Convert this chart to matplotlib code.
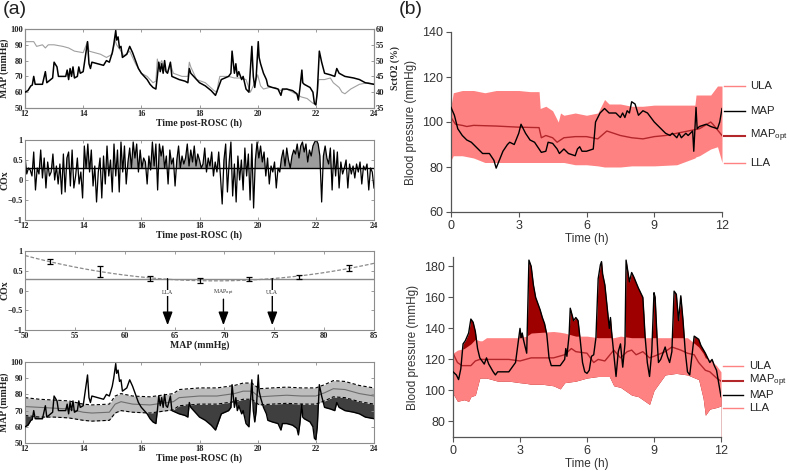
import numpy as np
import matplotlib
matplotlib.use("Agg")
import matplotlib.pyplot as plt

plt.rcParams["mathtext.fontset"] = "custom"
plt.rcParams["mathtext.rm"] = "Liberation Sans"
plt.rcParams["mathtext.it"] = "Liberation Sans:italic"
plt.rcParams["mathtext.bf"] = "Liberation Sans:bold"

# ---------------- Panel (a) data ----------------
map_t = [12.0, 12.1, 12.2, 12.25, 12.3, 12.35, 12.6, 12.7, 12.75, 12.95, 13.0, 13.1, 13.15, 13.4, 13.45, 13.5,
         13.55, 13.6, 13.65, 13.7, 13.8, 13.85, 13.9, 14.0, 14.15, 14.2, 14.25, 14.3, 14.5, 14.7, 14.8, 14.9,
         15.0, 15.05, 15.12, 15.15, 15.2, 15.25, 15.3, 15.35, 15.5, 15.6, 15.7, 15.8, 15.9, 16.0, 16.2, 16.3,
         16.4, 16.5, 16.55, 16.6, 16.65, 16.7, 16.75, 16.8, 16.85, 16.9, 17.0, 17.05, 17.3, 17.5, 17.6, 17.65,
         17.7, 17.9, 18.0, 18.2, 18.4, 18.55, 18.65, 18.75, 19.0, 19.08, 19.12, 19.2, 19.25, 19.3, 19.35, 19.45,
         19.5, 19.6, 19.7, 19.8, 19.85, 19.9, 19.95, 20.02, 20.05, 20.1, 20.2, 20.3, 20.35, 20.5, 20.7, 20.8,
         20.85, 21.0, 21.2, 21.35, 21.4, 21.45, 21.52, 21.55, 21.6, 21.8, 21.9, 21.95, 22.0, 22.05, 22.12, 22.2,
         22.3, 22.5, 22.65, 22.72, 22.8, 23.0, 23.3, 23.5, 23.7, 24.0]
map_v = [60, 61, 64, 64.5, 70, 65, 65, 73, 66, 69, 79, 76, 70, 70, 74, 68,
         75, 70, 76, 69, 70, 76, 72, 73, 92, 78, 75, 79, 78, 77, 80, 79,
         85, 90, 99, 93, 95, 88, 89, 82, 84, 89, 85, 80, 75, 72, 68, 65,
         63, 62, 70, 79, 73, 78, 72, 80, 73, 72, 79, 70, 68, 67, 66, 75,
         72, 68, 66, 64, 61, 58, 63, 68, 70, 72, 86, 72, 78, 70, 73, 68,
         70, 62, 60, 89, 70, 63, 70, 92, 82, 78, 72, 68, 64, 63, 62, 58,
         62, 62, 61, 59, 55, 62, 74, 66, 65, 63, 60, 53, 52, 60, 86, 79,
         72, 71, 70, 75, 72, 70, 69, 68, 66, 65]

sto2_t = [12.0, 12.3, 12.4, 12.6, 12.7, 12.8, 13.0, 13.3, 13.5, 13.7, 14.0, 14.15, 14.2, 14.4, 14.6, 14.8,
          15.0, 15.1, 15.15, 15.3, 15.4, 15.6, 15.8, 16.0, 16.2, 16.4, 16.5, 16.55, 16.6, 16.7, 16.8, 16.9,
          17.0, 17.1, 17.4, 17.6, 17.65, 17.7, 17.9, 18.2, 18.5, 18.6, 18.65, 18.7, 19.0, 19.2, 19.4, 19.6,
          19.75, 19.95, 20.0, 20.1, 20.2, 20.4, 20.6, 20.8, 21.0, 21.3, 21.5, 21.7, 21.9, 22.0, 22.1, 22.3,
          22.5, 22.6, 22.8, 22.9, 23.0, 23.2, 23.5, 23.8, 24.0]
sto2_v = [56, 56, 54.5, 55, 54, 55, 55, 54.5, 54, 53, 52.5, 56, 53, 52.5, 52, 51,
          52, 56.5, 55, 53, 51.5, 53, 49, 46, 45, 43, 43.5, 50.5, 48, 50, 47, 46,
          49, 46, 45, 45, 49.5, 48, 44, 43, 40.5, 40, 43, 45, 45, 44.5, 44.5, 44,
          40, 44, 45.5, 42, 41, 41.5, 41.5, 40.5, 41, 39.5, 38.5, 38, 36.5, 36, 44, 44,
          44.5, 43, 41.5, 40, 39.5, 41, 42.5, 43, 42.5]

cox_t0, cox_dt = 12.0, 0.06
cox_v = [0.6, 0.15, 0.3, 0.25, 0.1, 0.7, -0.25, 0.3, 0.15, 0.75, 0.05, 0.55, -0.2, 0.45, 0.1, 0.2, 0.65,
         0.0, 0.35, -0.1, 0.4, -0.35, 0.65, -0.3, 0.55, 0.7, -0.15, 0.75, -0.2, 0.1, 0.55, -0.1, 0.2, -0.45,
         0.85, 0.3, 0.9, 0.2, 0.75, -0.15, 0.35, -0.55, 0.2, 0.55, -0.45, 0.6, -0.1, 0.85, 0.1, 0.5, -0.3,
         0.9, 0.1, 0.75, -0.3, 0.95, 0.2, 0.85, -0.1, 0.45, 0.8, 0.3, 0.95, 0.55, 0.9, 0.2, 0.75, 0.3,
         0.55, 0.45, -0.1, 0.6, 0.25, 0.95, 0.35, 0.9, -0.25, 0.9, 0.6, 0.85, 0.3, 0.6, -0.1, 0.75, 0.4,
         0.55, -0.15, 0.5, 0.85, 0.3, 0.6, 0.4, 0.55, 0.9, 0.35, 0.75, 0.45, 0.85, 0.35, 0.65, 0.5, 0.3,
         0.4, 0.8, 0.2, 0.55, 0.35, 0.7, 0.1, 0.45, 0.2, 0.7, 0.1, -0.6, 0.5, 0.9, -0.3, 0.45, 0.95,
         -0.4, 0.4, -0.55, 0.6, 0.0, 0.5, -0.25, 0.8, 0.1, 0.65, -0.5, 0.9, -0.7, 0.5, 0.95, 0.55, 0.85,
         0.45, 0.7, 0.1, 0.55, -0.1, 0.35, 0.2, 0.45, -0.2, 0.3, 0.2, 0.55, 0.75, 0.35, 0.8, 0.5, 0.3,
         0.6, 0.75, 0.65, 0.9, 0.55, 0.85, 0.95, 0.7, 0.9, 0.45, 0.75, 0.6, 0.85, 0.95, 1.0, 0.9, 0.6,
         -0.55, 0.6, 0.85, 0.55, 0.4, 0.8, -0.25, 0.75, 0.1, 0.7, -0.2, 0.45, 0.15, 0.3, 0.5, -0.2, 0.4,
         0.15, 0.35, 0.05, 0.4, 0.2, 0.45, -0.1, 0.35, 0.25, 0.4, -0.25, 0.3, 0.2, -0.2]
cox_threshold = 0.3

bin_map = [52.5, 57.5, 62.5, 67.5, 72.5, 77.5, 82.5]
bin_cox = [0.73, 0.48, 0.31, 0.26, 0.28, 0.34, 0.57]
bin_err = [0.07, 0.13, 0.06, 0.06, 0.05, 0.06, 0.08]
arrow_names = ["LLA", "MAP$_{\\rm opt}$", "ULA"]
arrow_x = [64.3, 69.9, 74.8]

band_a_t = [12.0, 12.5, 13.0, 13.5, 14.0, 14.3, 14.9, 15.1, 15.3, 15.7, 16.3, 16.9, 17.1, 17.3, 18.0, 18.6,
            19.2, 19.5, 19.8, 20.05, 20.5, 21.0, 21.5, 22.0, 22.3, 22.6, 23.0, 23.5, 24.0]
ula_a = [78, 77, 76.5, 76, 74, 73.5, 74, 79, 80.5, 79, 78.5, 80, 80.5, 83, 84, 84,
         85.5, 87, 87, 83.5, 84, 84.5, 84, 84, 86, 88.5, 88, 85.5, 84]
opt_a = [72.5, 72, 71.5, 71, 69, 68.5, 69, 74, 75.5, 74, 73.5, 75, 75.5, 78, 79, 79,
         80.5, 82, 82, 78.5, 79, 79.5, 79, 79, 81, 83.5, 83, 80.5, 79]
lla_a = [67, 66, 66, 65.5, 64, 63.5, 64, 68.5, 70, 69, 68.5, 70, 70.5, 73, 74, 74,
         75.5, 77, 77, 73.5, 74, 74.5, 74, 74, 76, 78.5, 78, 75.5, 74]

# ---------------- Panel (b) data ----------------
b1_band_t = [0.0, 0.1, 0.5, 1.0, 1.5, 2.0, 2.5, 3.0, 3.5, 3.9, 3.95, 4.2, 4.5, 4.75, 4.85, 5.0, 5.5, 6.0, 6.5,
             6.8, 7.0, 7.5, 8.0, 8.5, 9.0, 10.0, 10.8, 10.85, 11.0, 11.5, 11.8, 12.0]
b1_ula = [107, 113, 114, 114, 113, 114, 114, 114, 113.5, 113.5, 106, 107, 105, 100, 104, 103, 104, 103, 104,
          110, 108, 108, 107, 107, 107.5, 107.5, 107.5, 112, 112, 112, 116, 116]
b1_lla = [83, 85, 85, 84, 82, 82, 82, 82, 82, 82, 82, 82, 82, 82, 82, 82, 81, 81, 80.5,
          80, 80, 80, 80.5, 80.5, 80.5, 81, 84, 84.5, 85, 88, 89, 82]
b1_opt_t = [0.0, 0.2, 0.5, 0.7, 1.0, 2.0, 3.0, 3.9, 4.0, 4.2, 4.5, 4.7, 5.0, 5.5, 6.0, 6.5, 6.9, 7.5, 8.0,
            8.5, 9.0, 9.5, 10.0, 10.5, 11.0, 11.5, 11.6, 12.0]
b1_opt = [102, 99, 98.5, 98, 98.5, 98.2, 97.7, 97.5, 93, 94, 93, 91, 93, 93.5, 93.5, 92.5, 96, 94, 93,
          92.5, 93.5, 94, 95, 96, 97, 100, 99, 94]
b1_map_t = [0.0, 0.15, 0.3, 0.5, 0.7, 0.9, 1.0, 1.2, 1.4, 1.7, 1.9, 2.0, 2.1, 2.3, 2.5, 2.6, 2.8, 3.0, 3.1,
            3.3, 3.5, 3.7, 3.9, 4.0, 4.2, 4.3, 4.5, 4.7, 4.8, 5.0, 5.2, 5.5, 5.6, 5.7, 5.8, 6.0, 6.3, 6.4,
            6.6, 6.8, 7.0, 7.3, 7.5, 7.6, 7.7, 7.8, 7.9, 8.0, 8.15, 8.3, 8.5, 8.7, 9.0, 9.3, 9.5, 9.7, 9.8,
            10.0, 10.1, 10.2, 10.4, 10.5, 10.7, 10.75, 10.85, 10.9, 11.0, 11.3, 11.5, 11.8, 11.9, 12.0]
b1_map = [106.5, 103, 97, 94, 92, 91, 90, 88, 86, 86, 83, 79.5, 82, 87, 90, 91, 90, 95, 99,
          95, 92, 91, 88, 86.5, 87, 91, 90.5, 88, 86, 88, 86, 85, 88, 89, 87, 87, 88, 100,
          104, 106, 104, 104, 102, 104, 102, 105, 104, 109, 108, 103, 105, 104, 100, 97, 95, 94, 95,
          93, 95, 93, 95, 94, 96, 87, 106.5, 97, 98, 99, 98, 97, 100, 106]

b2_band_t = [0.0, 0.2, 0.5, 0.7, 0.8, 1.0, 1.2, 1.3, 1.5, 2.0, 2.5, 3.0, 3.3, 3.5, 4.0, 4.5, 4.8, 5.0, 5.5,
             6.0, 6.5, 7.0, 7.2, 7.5, 8.0, 8.3, 8.5, 8.8, 9.0, 9.5, 10.0, 10.5, 11.0, 11.2, 11.3, 11.5, 11.8, 12.0]
b2_ula = [124, 126, 127, 129, 130, 133, 132, 132, 134, 134, 134, 134, 135, 137, 137.5, 138, 137.5, 137, 135,
          135, 134, 134, 134, 135, 134, 134, 134, 134, 134, 134, 134, 134, 128, 124, 121, 120, 116, 112]
b2_lla = [98, 93, 94, 93, 96, 97, 108, 108, 108, 106, 106, 105, 104.5, 104, 104, 103, 101, 105, 106,
          108, 109, 109, 103, 102, 97, 96, 94, 91, 100, 110, 111, 110, 107, 95, 84, 88, 89, 90]
b2_opt_t = [0.0, 0.2, 0.4, 0.8, 1.0, 1.2, 2.0, 2.5, 3.0, 3.5, 4.0, 4.5, 5.0, 5.3, 5.5, 6.0, 6.3, 6.5, 6.8,
            7.2, 7.5, 7.8, 8.0, 8.2, 8.5, 8.8, 9.0, 9.5, 9.8, 10.2, 10.5, 10.8, 11.0, 11.3, 11.5, 11.8, 12.0]
b2_opt = [124, 118, 116, 116, 119, 120, 120, 120, 119, 121, 121, 121, 123, 127, 125, 124, 118, 120, 119,
          126, 121, 125, 126, 123, 125, 121, 122, 125, 128, 126, 124, 123, 118, 113, 112, 108, 106]
b2_map_t = [0.0, 0.15, 0.25, 0.35, 0.45, 0.55, 0.7, 0.8, 0.9, 1.0, 1.1, 1.2, 1.4, 1.5, 1.6, 1.8, 1.9, 2.0,
            2.5, 2.8, 3.0, 3.05, 3.1, 3.15, 3.3, 3.4, 3.5, 3.6, 3.7, 3.9, 4.0, 4.1, 4.2, 4.3, 4.4, 4.8, 5.0,
            5.05, 5.1, 5.2, 5.25, 5.4, 5.5, 5.6, 5.7, 5.8, 5.9, 6.0, 6.1, 6.2, 6.3, 6.4, 6.5, 6.6, 6.65,
            6.7, 6.8, 7.0, 7.05, 7.1, 7.3, 7.4, 7.5, 7.6, 7.7, 7.75, 7.9, 8.0, 8.1, 8.3, 8.5, 8.55, 8.6,
            8.7, 8.8, 8.9, 9.0, 9.05, 9.15, 9.2, 9.3, 9.5, 9.6, 9.7, 9.8, 9.9, 10.0, 10.1, 10.2, 10.3,
            10.4, 10.5, 10.6, 10.8, 11.0, 11.1, 11.3, 11.5, 11.6, 11.7, 11.8, 12.0]
b2_map = [112, 110, 107, 114, 130, 132, 137, 146, 144, 138, 127, 121, 117, 121, 117, 112, 110, 112,
          112, 118, 140, 134, 137, 133, 124, 184, 180, 168, 160, 152, 147, 143, 136, 121, 116, 116, 120,
          127, 122, 136, 153, 145, 147, 145, 132, 118, 112, 111, 113, 122, 123, 134, 172, 181, 183,
          175, 168, 140, 147, 138, 109, 125, 130, 115, 130, 184, 170, 176, 173, 166, 160, 148, 135,
          118, 109, 125, 163, 160, 130, 118, 120, 128, 122, 118, 125, 164, 162, 145, 161, 145,
          125, 112, 110, 135, 133, 129, 124, 118, 120, 116, 113, 96]
b2_label_y = [115.5, 106, 97, 89]

# ---------------- Styling ----------------
SERIF = "Liberation Serif"
SANS = "Liberation Sans"
fig = plt.figure(figsize=(7.89, 4.71), dpi=100)

W = 789.0; H = 471.0
def rect(x0, x1, y0, y1):
    return [x0 / W, 1 - y1 / H, (x1 - x0) / W, (y1 - y0) / H]

def style_a(ax):
    for s in ax.spines.values():
        s.set_color("#8c8c8c")
        s.set_linewidth(0.8)
    ax.tick_params(direction="in", length=2.5, width=0.6, top=True, right=True,
                   labelsize=6.0, pad=1.5, colors="#8c8c8c", labelcolor="#222222")
    for lab in ax.get_xticklabels() + ax.get_yticklabels():
        lab.set_fontfamily(SERIF)
        lab.set_fontweight("bold")

def lab_a(ax, xl, yl):
    ax.set_xlabel(xl, fontfamily=SERIF, fontweight="bold", fontsize=7, labelpad=0.5, color="#222222")
    ax.set_ylabel(yl, fontfamily=SERIF, fontweight="bold", fontsize=7, color="#222222")
    ax.yaxis.set_label_coords((9 - 25) / 349.0, 0.5)

xt = np.arange(12, 25, 2)

# (a1)
a1 = fig.add_axes(rect(25, 374, 29, 108))
a1r = a1.twinx()
a1r.plot(sto2_t, sto2_v, color="#a0a0a0", lw=0.8, zorder=1)
a1.plot(map_t, map_v, color="black", lw=1.1, zorder=3)
a1.set_zorder(a1r.get_zorder() + 1)
a1.patch.set_visible(False)
a1.set_xlim(12, 24); a1.set_ylim(50, 100)
a1r.set_ylim(35, 60)
a1.set_xticks(xt); a1.set_yticks(np.arange(50, 101, 10))
a1r.set_yticks(np.arange(35, 61, 5))
style_a(a1)
a1.tick_params(right=False)
style_a(a1r)
a1r.tick_params(left=False, top=False)
lab_a(a1, "Time post-ROSC (h)", "MAP (mmHg)")
a1r.set_ylabel("SctO2 (%)", fontfamily=SERIF, fontweight="bold", fontsize=7, color="#222222")
a1r.yaxis.set_label_coords((390 - 25) / 349.0, 0.5)

# (a2)
a2 = fig.add_axes(rect(25, 374, 140, 220))
ct = cox_t0 + cox_dt * np.arange(len(cox_v))
cv = np.array(cox_v)
a2.fill_between(ct, cv, cox_threshold, where=cv > cox_threshold, interpolate=True,
                color="#9c9c9c", lw=0)
a2.plot(ct, cv, color="black", lw=0.9)
a2.axhline(cox_threshold, color="black", lw=1.0)
a2.set_xlim(12, 24); a2.set_ylim(-1, 1)
a2.set_xticks(xt); a2.set_yticks([-1, -0.5, 0, 0.5, 1])
a2.set_yticklabels(["\u22121", "\u22120.5", "0", "0.5", "1"])
style_a(a2)
lab_a(a2, "Time post-ROSC (h)", "COx")

# (a3)
a3 = fig.add_axes(rect(25, 374, 251, 330))
coef = np.polyfit(bin_map, bin_cox, 2)
xf = np.linspace(50, 85, 200)
a3.plot(xf, np.polyval(coef, xf), color="#8a8a8a", lw=0.9, ls=(0, (3, 1.5)))
a3.axhline(cox_threshold, color="#8a8a8a", lw=1.0)
a3.errorbar(bin_map, bin_cox, yerr=bin_err, fmt="none", ecolor="black", elinewidth=0.9,
            capsize=2.5, capthick=0.9)
for name, xa in zip(arrow_names, arrow_x):
    start = cox_threshold if name != arrow_names[1] else -0.22
    a3.annotate("", xy=(xa, -0.88), xytext=(xa, start),
                arrowprops=dict(arrowstyle="-|>,head_length=0.8,head_width=0.3", color="black",
                                lw=1.0, shrinkA=0, shrinkB=0))
    a3.text(xa, -0.06, name, ha="center", va="center", fontsize=4.2, fontfamily=SERIF,
            color="#333333", bbox=dict(facecolor="white", edgecolor="none", pad=0.3))
a3.set_xlim(50, 85); a3.set_ylim(-1, 1)
a3.set_xticks(np.arange(50, 86, 5)); a3.set_yticks([-1, -0.5, 0, 0.5, 1])
a3.set_yticklabels(["\u22121", "\u22120.5", "0", "0.5", "1"])
style_a(a3)
lab_a(a3, "MAP (mmHg)", "COx")

# (a4)
a4 = fig.add_axes(rect(25, 374, 362, 443))
a4.fill_between(band_a_t, lla_a, 40, color="#3f3f3f", lw=0, zorder=1)
a4.fill_between(map_t, map_v, 40, color="white", lw=0, zorder=1.1)
a4.fill_between(band_a_t, lla_a, ula_a, color="#bdbdbd", lw=0, zorder=1.2)
a4.plot(band_a_t, ula_a, color="black", lw=0.8, ls=(0, (3, 2)), zorder=2)
a4.plot(band_a_t, lla_a, color="black", lw=0.8, ls=(0, (3, 2)), zorder=2)
a4.plot(band_a_t, opt_a, color="#6e6e6e", lw=0.8, zorder=2)
a4.plot(map_t, map_v, color="black", lw=1.0, zorder=3)
a4.set_xlim(12, 24); a4.set_ylim(50, 100)
a4.set_xticks(xt); a4.set_yticks(np.arange(50, 101, 10))
style_a(a4)
lab_a(a4, "Time post-ROSC (h)", "MAP (mmHg)")

# ---------------- Panel (b) ----------------
LIGHT = "#ff8282"
OPTC = "#b3262a"
DARK = "#9e0000"

def style_b(ax):
    for s in ["top", "right"]:
        ax.spines[s].set_visible(False)
    for s in ["left", "bottom"]:
        ax.spines[s].set_color("#555555")
        ax.spines[s].set_linewidth(0.9)
    ax.tick_params(direction="out", length=3.5, width=0.8, colors="#555555",
                   labelcolor="#333333", labelsize=9, pad=2)
    for lab in ax.get_xticklabels() + ax.get_yticklabels():
        lab.set_fontfamily(SANS)
    ax.set_xlabel("Time (h)", fontfamily=SANS, fontsize=8.5, color="#333333", labelpad=1)
    ax.set_ylabel("Blood pressure (mmHg)", fontfamily=SANS, fontsize=8.5, color="#333333", labelpad=4)
    ax.set_xlim(0, 12)
    ax.set_xticks([0, 3, 6, 9, 12])

def end_labels(ax, items):
    for txt, yv, col, lw in items:
        ax.plot([12.1, 13.0], [yv, yv], color=col, lw=lw, clip_on=False)
        ax.text(13.25, yv, txt, fontsize=8.2, fontfamily=SANS, color="#222222", va="center",
                clip_on=False)

b1 = fig.add_axes(rect(451, 722, 32, 212))
b1.fill_between(b1_band_t, b1_lla, b1_ula, color=LIGHT, lw=0, zorder=1)
b1.plot(b1_opt_t, b1_opt, color=OPTC, lw=1.0, zorder=2)
b1.plot(b1_map_t, b1_map, color="black", lw=1.0, zorder=3)
b1.set_ylim(60, 140); b1.set_yticks(np.arange(60, 141, 20))
style_b(b1)
end_labels(b1, [("ULA", b1_ula[-1], LIGHT, 1.0), ("MAP", b1_map[-1] - 1, "black", 1.0),
                ("MAP$_{\\rm opt}$", b1_opt[-1], OPTC, 1.5), ("LLA", b1_lla[-1], LIGHT, 1.0)])

b2 = fig.add_axes(rect(453, 721, 257, 437))
b2.fill_between(b2_map_t, b2_map, 60, color=DARK, lw=0, zorder=1)
b2.fill_between(b2_band_t, b2_lla, b2_ula, color=LIGHT, lw=0, zorder=1.2)
b2.fill_between(b2_band_t, 60, b2_lla, color="white", lw=0, zorder=1.1)
b2.plot(b2_opt_t, b2_opt, color=OPTC, lw=1.0, zorder=2)
b2.plot(b2_map_t, b2_map, color="black", lw=1.0, zorder=3)
b2.set_ylim(70, 186); b2.set_yticks(np.arange(80, 181, 20))
style_b(b2)
end_labels(b2, [("ULA", b2_label_y[0], LIGHT, 1.0), ("MAP$_{\\rm opt}$", b2_label_y[1], OPTC, 1.5),
                ("MAP", b2_label_y[2], "black", 1.0), ("LLA", b2_label_y[3], LIGHT, 1.0)])

fig.text(0.003, 0.997, "(a)", fontsize=14, fontfamily=SANS, va="top", ha="left", color="#222222")
fig.text(0.505, 0.997, "(b)", fontsize=14, fontfamily=SANS, va="top", ha="left", color="#222222")

fig.savefig("out.png", dpi=100)
